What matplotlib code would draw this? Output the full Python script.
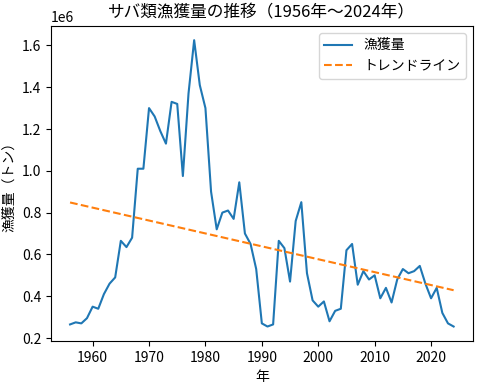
import numpy as np
import matplotlib.pyplot as plt

plt.rcParams['font.family'] = ['Noto Sans CJK JP', 'DejaVu Sans']

years = np.arange(1956, 2025)
catch = np.array([
    0.265, 0.275, 0.270, 0.295, 0.350, 0.340, 0.410, 0.460, 0.490, 0.665,
    0.635, 0.680, 1.010, 1.010, 1.300, 1.260, 1.190, 1.130, 1.330, 1.320,
    0.975, 1.370, 1.625, 1.410, 1.300, 0.900, 0.720, 0.800, 0.810, 0.770,
    0.945, 0.700, 0.650, 0.530, 0.270, 0.255, 0.265, 0.665, 0.630, 0.470,
    0.760, 0.850, 0.510, 0.380, 0.350, 0.375, 0.280, 0.330, 0.340, 0.620,
    0.650, 0.455, 0.520, 0.480, 0.500, 0.390, 0.440, 0.370, 0.480, 0.530,
    0.510, 0.520, 0.545, 0.460, 0.390, 0.440, 0.320, 0.270, 0.255,
]) * 1e6

# linear trend
coef = np.polyfit(years, catch, 1)
trend = np.polyval(coef, years)

fig, ax = plt.subplots(figsize=(4.8, 3.86), dpi=100)
ax.plot(years, catch, label='漁獲量')
ax.plot(years, trend, '--', label='トレンドライン')
ax.set_title('サバ類漁獲量の推移（1956年～2024年）')
ax.set_xlabel('年')
ax.set_ylabel('漁獲量（トン）')
ax.legend()
fig.subplots_adjust(left=0.106, right=0.985, top=0.933, bottom=0.117)
plt.savefig('out.png')
